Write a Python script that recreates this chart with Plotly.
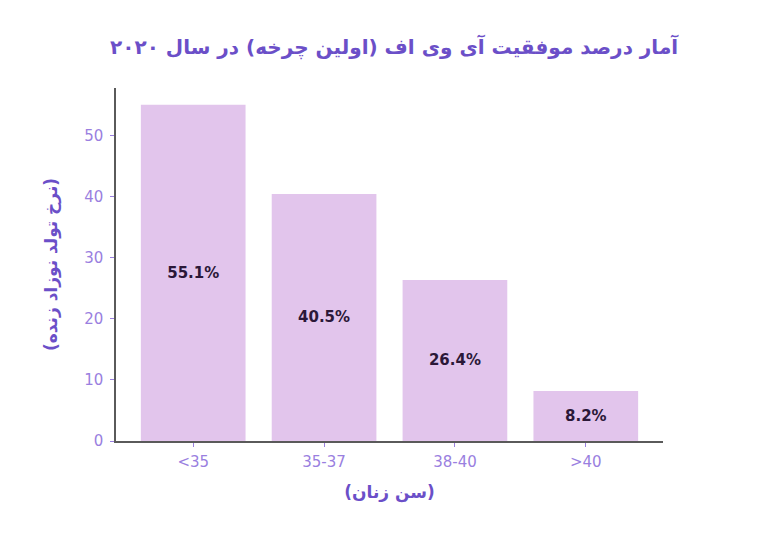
import plotly.graph_objects as go

categories = ["<35", "35-37", "38-40", ">40"]
values = [55.1, 40.5, 26.4, 8.2]
labels = ["55.1%", "40.5%", "26.4%", "8.2%"]
y_ticks = [0, 10, 20, 30, 40, 50]

title_text = "آمار درصد موفقیت آی وی اف (اولین چرخه) در سال ۲۰۲۰"
x_title = "(سن زنان)"
y_title = "(نرخ تولد نوزاد زنده)"

purple_dark = "#6b4fc8"
purple_tick = "#9a7fe0"

fig = go.Figure(
    go.Bar(
        x=list(range(len(categories))),
        y=values,
        width=0.8,
        marker=dict(color="#e2c5ec", line=dict(width=0)),
        text=labels,
        textposition="inside",
        insidetextanchor="middle",
        textfont=dict(family="DejaVu Sans", size=15, color="#2b1838", weight="bold"),
        textangle=0,
        hoverinfo="skip",
    )
)

fig.update_layout(
    width=760,
    height=527,
    margin=dict(l=108, r=105, t=80, b=94, autoexpand=False),
    paper_bgcolor="white",
    plot_bgcolor="white",
    showlegend=False,
    title=dict(
        text=title_text,
        x=0.508,
        xanchor="center",
        y=0.926,
        yanchor="middle",
        font=dict(family="DejaVu Sans", size=20, color=purple_dark, weight="bold"),
    ),
    xaxis=dict(
        range=[-0.59, 3.59],
        tickmode="array",
        tickvals=list(range(len(categories))),
        ticktext=categories,
        showgrid=False,
        zeroline=False,
        showline=True,
        linecolor="#5a5a5a",
        linewidth=1.5,
        ticks="outside",
        ticklen=4,
        tickcolor=purple_tick,
        ticklabelstandoff=2,
        tickfont=dict(family="DejaVu Sans", size=15, color=purple_tick),
        title=dict(
            text=x_title,
            font=dict(family="DejaVu Sans", size=17, color=purple_dark, weight="bold"),
            standoff=16,
        ),
    ),
    yaxis=dict(
        range=[0, 57.86],
        tickmode="array",
        tickvals=y_ticks,
        showgrid=False,
        zeroline=False,
        showline=True,
        linecolor="#5a5a5a",
        linewidth=1.5,
        ticks="outside",
        ticklen=4,
        tickcolor=purple_tick,
        ticklabelstandoff=4,
        tickfont=dict(family="DejaVu Sans", size=15, color=purple_tick),
        title=dict(
            text=y_title,
            font=dict(family="DejaVu Sans", size=17, color=purple_dark, weight="bold"),
            standoff=22,
        ),
    ),
)

fig.write_html("out.html")
